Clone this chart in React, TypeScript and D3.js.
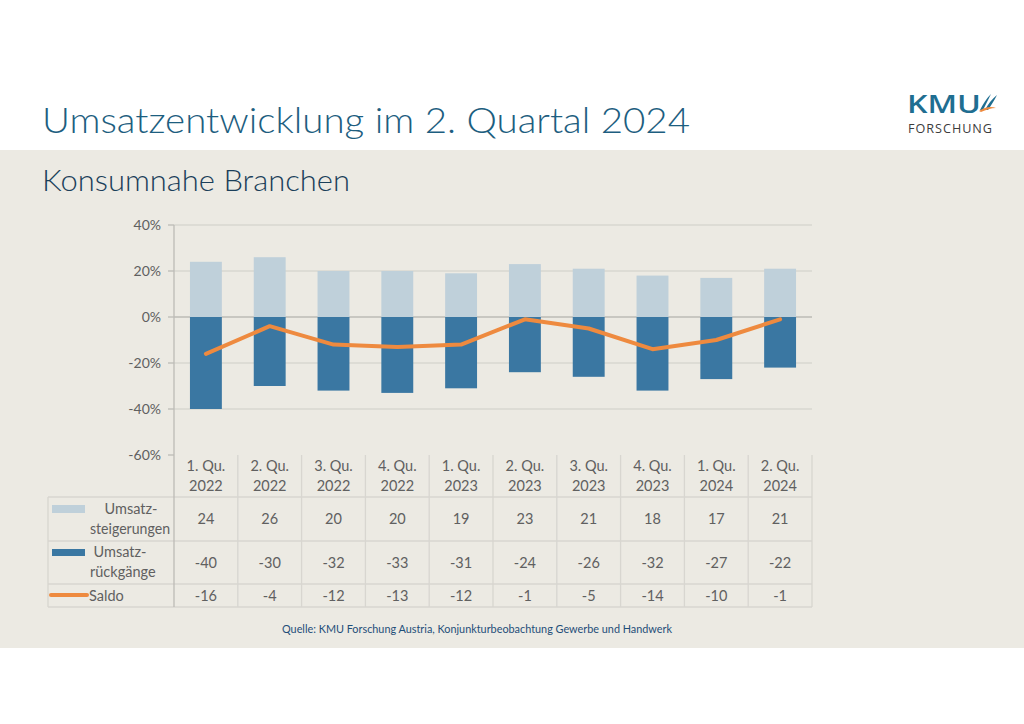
import React from "react";
import * as d3 from "d3";

const categories = ["1. Qu.|2022", "2. Qu.|2022", "3. Qu.|2022", "4. Qu.|2022", "1. Qu.|2023", "2. Qu.|2023", "3. Qu.|2023", "4. Qu.|2023", "1. Qu.|2024", "2. Qu.|2024"];
const steigerungen = [24, 26, 20, 20, 19, 23, 21, 18, 17, 21];
const rueckgaenge = [-40, -30, -32, -33, -31, -24, -26, -32, -27, -22];
const saldo = [-16, -4, -12, -13, -12, -1, -5, -14, -10, -1];
const yTicks = [40, 20, 0, -20, -40, -60];

const FONT = "Lato, 'Open Sans', sans-serif";
const GRAY = "#606060";
const LIGHT = "#BFD0DA";
const DARK = "#3A77A2";
const ORANGE = "#EE8A3F";

export default function App() {
  const left = 174, right = 812;
  const x = d3.scaleBand<number>().domain(d3.range(categories.length)).range([left, right]).paddingInner(0.5).paddingOuter(0.25);
  const band = d3.scaleBand<number>().domain(d3.range(categories.length)).range([left, right]);
  const y = d3.scaleLinear().domain([-60, 40]).range([455, 225]);
  const line = d3.line<number>().x((_, i) => band(i)! + band.bandwidth() / 2).y((d) => y(d)).curve(d3.curveLinear);

  const tableLeft = 48;
  const rowY = [455, 497, 541, 584, 607];
  const border = "#D8D6D0";

  return (
    <svg width={1024} height={724} style={{ position: "absolute", left: 0, top: 0 }} fontFamily={FONT}>
      <rect x={0} y={0} width={1024} height={724} fill="#fff" />
      <rect x={0} y={150} width={1024} height={498} fill="#ECEAE3" />
      <text x={42} y={133} fontSize={36} fontWeight={300} fill="#1D5E80" textLength={648} lengthAdjust="spacingAndGlyphs">Umsatzentwicklung im 2. Quartal 2024</text>
      <text x={42} y={191} fontSize={30} fontWeight={300} fill="#1B3F5A" textLength={308} lengthAdjust="spacingAndGlyphs">Konsumnahe Branchen</text>

      {/* logo */}
      <text x={907} y={113} fontSize={25} fontWeight={600} fill="#1F6E91" fontFamily="'Open Sans', sans-serif" textLength={74} lengthAdjust="spacingAndGlyphs">KMU</text>
      <text x={908} y={133} fontSize={13} fill="#3C3C3C" fontFamily="'Open Sans', sans-serif" textLength={85} lengthAdjust="spacingAndGlyphs" letterSpacing={1}>FORSCHUNG</text>
      <path d="M980,110 C983,104 986,99 991,94 C988,100 986,104 983,110 Z" fill="#1F6E91" />
      <path d="M985,110 C988,104 992,99 997,95 C994,101 991,105 988,110 Z" fill="#1F6E91" />
      <path d="M979,111 C985,107 991,106 996,108 C991,108 986,110 981,112 Z" fill="#EE8A3F" />

      {/* gridlines */}
      {yTicks.slice(0, 5).map((t) => (
        <line key={t} x1={left} x2={right} y1={y(t)} y2={y(t)} stroke={t === 0 ? "#BDBBB6" : "#D9D7D1"} strokeWidth={1.3} />
      ))}
      <line x1={left} x2={left} y1={225} y2={455} stroke="#BDBBB6" strokeWidth={1.3} />
      {yTicks.map((t) => (
        <g key={"t" + t}>
          <line x1={168} x2={left} y1={y(t)} y2={y(t)} stroke="#BDBBB6" strokeWidth={1.3} />
          <text x={161} y={y(t) + 5} textAnchor="end" fontSize={14} fill={GRAY}>{t}%</text>
        </g>
      ))}

      {/* bars */}
      {steigerungen.map((v, i) => (
        <rect key={"s" + i} x={x(i)} width={x.bandwidth()} y={y(v)} height={y(0) - y(v)} fill={LIGHT} />
      ))}
      {rueckgaenge.map((v, i) => (
        <rect key={"r" + i} x={x(i)} width={x.bandwidth()} y={y(0)} height={y(v) - y(0)} fill={DARK} />
      ))}
      <path d={line(saldo)!} fill="none" stroke={ORANGE} strokeWidth={4} strokeLinejoin="round" strokeLinecap="round" />

      {/* table */}
      {rowY.slice(1).map((ry) => (
        <line key={"h" + ry} x1={tableLeft} x2={right} y1={ry} y2={ry} stroke={border} strokeWidth={1.3} />
      ))}
      <line x1={tableLeft} x2={tableLeft} y1={497} y2={607} stroke={border} strokeWidth={1.3} />
      {d3.range(categories.length + 1).map((i) => {
        const cx = band(i) ?? right;
        return <line key={"v" + i} x1={cx} x2={cx} y1={455} y2={607} stroke={i === 0 ? "#BDBBB6" : border} strokeWidth={1.3} />;
      })}
      {categories.map((c, i) => {
        const cx = band(i)! + band.bandwidth() / 2;
        const [a, b] = c.split("|");
        return (
          <g key={"c" + i} fontSize={14.5} fill={GRAY} textAnchor="middle">
            <text x={cx} y={471}>{a}</text>
            <text x={cx} y={491}>{b}</text>
            <text x={cx} y={524}>{steigerungen[i]}</text>
            <text x={cx} y={568}>{rueckgaenge[i]}</text>
            <text x={cx} y={601}>{saldo[i]}</text>
          </g>
        );
      })}
      {/* legend keys */}
      <rect x={52} y={505} width={33} height={8} fill={LIGHT} />
      <rect x={52} y={549} width={33} height={7} fill={DARK} />
      <line x1={51} x2={87} y1={595} y2={595} stroke={ORANGE} strokeWidth={4} strokeLinecap="round" />
      <g fontSize={14.5} fill={GRAY}>
        <text x={131} y={514} textAnchor="middle">Umsatz-</text>
        <text x={90} y={534} textLength={80} lengthAdjust="spacingAndGlyphs">steigerungen</text>
        <text x={120} y={557} textAnchor="middle">Umsatz-</text>
        <text x={90} y={577}>rückgänge</text>
        <text x={89} y={601}>Saldo</text>
      </g>

      <text x={477} y={633} textAnchor="middle" fontSize={10.5} fill="#1F4E79" textLength={390} lengthAdjust="spacingAndGlyphs">Quelle: KMU Forschung Austria, Konjunkturbeobachtung Gewerbe und Handwerk</text>
    </svg>
  );
}
